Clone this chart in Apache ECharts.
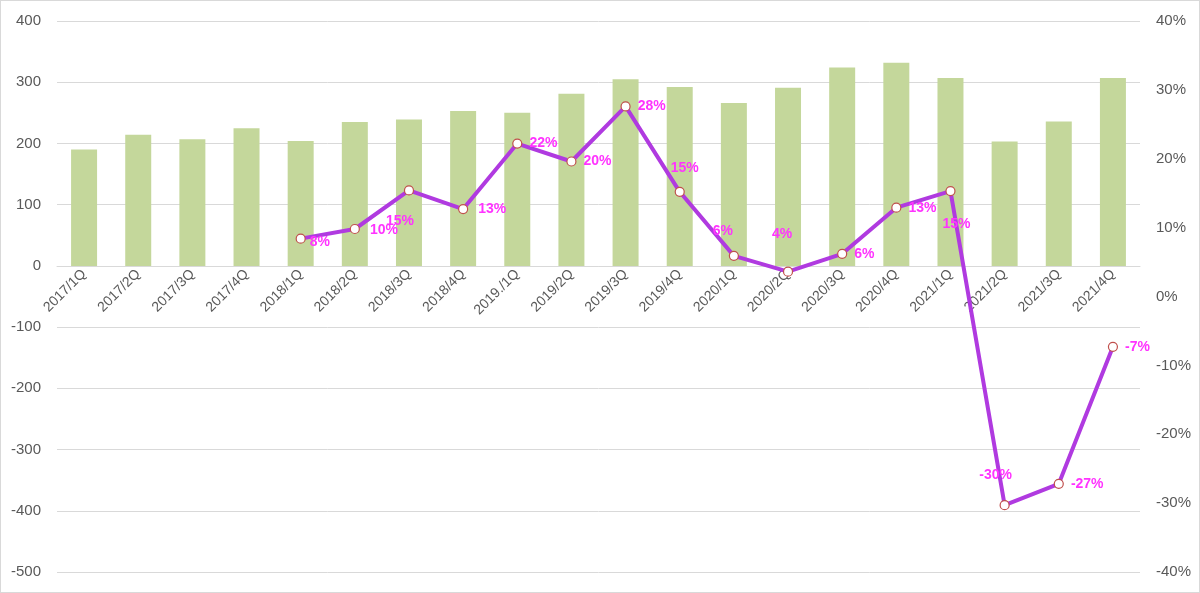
<!DOCTYPE html>
<html>
<head>
<meta charset="utf-8">
<script src="https://cdn.jsdelivr.net/npm/echarts@6/dist/echarts.min.js"></script>
<style>
html,body{margin:0;padding:0;background:#fff;}
#c{width:1198px;height:591px;border:1px solid #d9d9d9;}
</style>
</head>
<body>
<div id="c"></div>
<script>
const categories = ['2017/1Q','2017/2Q','2017/3Q','2017/4Q','2018/1Q','2018/2Q','2018/3Q','2018/4Q','2019./1Q','2019/2Q','2019/3Q','2019/4Q','2020/1Q','2020/2Q','2020/3Q','2020/4Q','2021/1Q','2021/2Q','2021/3Q','2021/4Q'];
const barValues = [190,214,207,225,204,235,239,253,250,281,305,292,266,291,324,332,307,203,236,307];
const growthPct = [null,null,null,null,8.4,9.8,15.4,12.7,22.2,19.6,27.6,15.2,5.9,3.6,6.2,12.9,15.3,-30.3,-27.2,-7.3];
const leftTicks = {min:-500, max:400, interval:100};
const rightTicks = {min:-40, max:40, interval:10};
const labelPlacement = [null,null,null,null,'r8','r10','b15','r13','right','right','right','t15','t6','t4','right','right','below15','topleft','right','right'];

const placeMap = {
  'right': {position:'right', offset:[2,0]},
  'r8': {position:'right', offset:[-1,3]},
  'r10': {position:'right', offset:[5,1]},
  'b15': {position:'bottom', offset:[-9,14]},
  'r13': {position:'right', offset:[5,0]},
  't15': {position:'top', offset:[5,-7]},
  't6': {position:'top', offset:[-11,-8]},
  't4': {position:'top', offset:[-6,-20]},
  'below15': {position:'bottom', offset:[6,16]},
  'topleft': {position:'top', offset:[-9,-13]}
};

const lineData = growthPct.map((v,i)=>{
  if (v === null) return null;
  const p = placeMap[labelPlacement[i]] || placeMap.right;
  return {value:v, label:{position:p.position, offset:p.offset}};
});

const chart = echarts.init(document.getElementById('c'));
chart.setOption({
  animation:false,
  grid:{left:56, right:59, top:20, bottom:20, containLabel:false, outerBoundsMode:'none'},
  xAxis:{
    type:'category', data:categories, position:'bottom', offset:0,
    axisLine:{onZero:false, lineStyle:{color:'#d9d9d9', width:1}},
    axisTick:{show:false},
    axisLabel:{rotate:45, color:'#595959', fontSize:14, fontFamily:'Liberation Sans, Arial', margin:6, interval:0}
  },
  yAxis:[
    {type:'value', min:leftTicks.min, max:leftTicks.max, interval:leftTicks.interval,
     axisLine:{show:false}, axisTick:{show:false},
     axisLabel:{color:'#595959', fontSize:15, fontFamily:'Liberation Sans, Arial', margin:16},
     splitLine:{lineStyle:{color:'#d9d9d9', width:1}}},
    {type:'value', min:rightTicks.min, max:rightTicks.max, interval:rightTicks.interval,
     axisLine:{show:false}, axisTick:{show:false},
     axisLabel:{color:'#595959', fontSize:15, fontFamily:'Liberation Sans, Arial', margin:16, formatter:'{value}%'},
     splitLine:{show:false}}
  ],
  series:[
    {type:'bar', data:barValues, yAxisIndex:0, barWidth:'48%',
     itemStyle:{color:'#c4d79b'}},
    {type:'line', data:lineData, yAxisIndex:1, connectNulls:false,
     symbol:'circle', symbolSize:9,
     lineStyle:{color:'#b03ae0', width:4},
     itemStyle:{color:'#ffffff', borderColor:'#c0504d', borderWidth:1.2},
     label:{show:true, color:'#ff33ff', fontWeight:'bold', fontSize:14, fontFamily:'Liberation Sans, Arial',
       formatter:(p)=>Math.round(p.value)+'%'},
     z:5}
  ]
});
// Move category axis up to the zero line of the left value axis
const yZero = chart.convertToPixel({yAxisIndex:0}, 0);
const yMin = chart.convertToPixel({yAxisIndex:0}, leftTicks.min);
chart.setOption({xAxis:{offset:-(yMin - yZero)}});
</script>
</body>
</html>
